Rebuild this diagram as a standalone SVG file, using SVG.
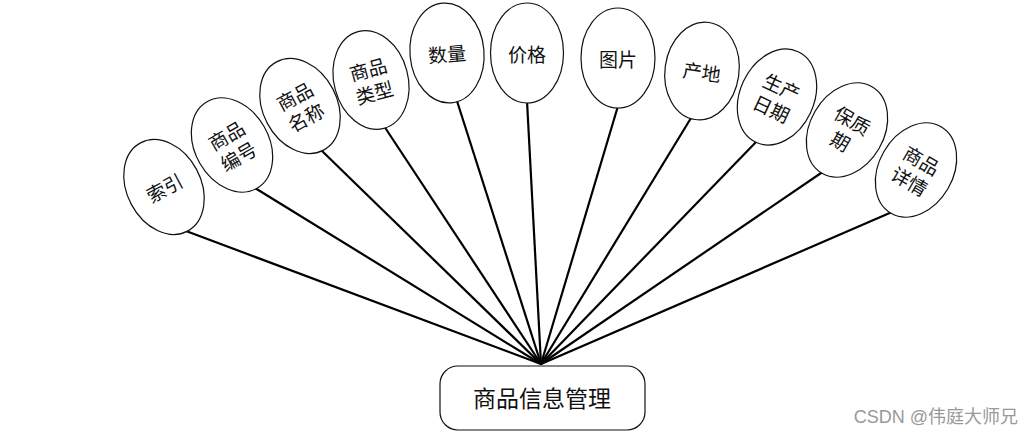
<svg xmlns="http://www.w3.org/2000/svg" width="1033" height="437" viewBox="0 0 1033 437">
<style>
.e{fill:#fff;stroke:#111;stroke-width:1.2}
.t{font-family:"Noto Sans CJK SC",sans-serif;font-size:19px;fill:#111;text-anchor:middle;dominant-baseline:central}
.c line{stroke:#000;stroke-width:2.2}
</style>
<rect width="1033" height="437" fill="#fff"/>
<g id="connectors" class="c">
<line x1="186" y1="231" x2="541" y2="364"/>
<line x1="255" y1="188" x2="541" y2="364"/>
<line x1="321" y1="150" x2="541" y2="364"/>
<line x1="384" y1="126" x2="541" y2="364"/>
<line x1="457" y1="101" x2="541" y2="364"/>
<line x1="527" y1="101" x2="541" y2="364"/>
<line x1="618" y1="106" x2="541" y2="364"/>
<line x1="691" y1="118" x2="541" y2="364"/>
<line x1="757" y1="141" x2="541" y2="364"/>
<line x1="824" y1="171" x2="541" y2="364"/>
<line x1="892" y1="212" x2="541" y2="364"/>
</g>
<g id="n1" transform="translate(164,187) rotate(-28)"><ellipse class="e" rx="37" ry="50"/><text class="t" x="0" y="0">索引</text></g>
<g id="n2" transform="translate(232,145) rotate(-30)"><ellipse class="e" rx="37" ry="50"/><text class="t" x="0" y="-12">商品</text><text class="t" x="0" y="12">编号</text></g>
<g id="n3" transform="translate(300,106) rotate(-28)"><ellipse class="e" rx="37" ry="50"/><text class="t" x="0" y="-12">商品</text><text class="t" x="0" y="12">名称</text></g>
<g id="n4" transform="translate(371,80) rotate(-15)"><ellipse class="e" rx="37" ry="50"/><text class="t" x="0" y="-12">商品</text><text class="t" x="0" y="12">类型</text></g>
<g id="n5" transform="translate(447,53) rotate(-5)"><ellipse class="e" rx="37" ry="50"/><text class="t" x="0" y="0">数量</text></g>
<g id="n6" transform="translate(527,53)"><ellipse class="e" rx="36.5" ry="50"/><text class="t" x="0" y="0">价格</text></g>
<g id="n7" transform="translate(618,58)"><ellipse class="e" rx="37" ry="50"/><text class="t" x="0" y="0">图片</text></g>
<g id="n8" transform="translate(702,71) rotate(8)"><ellipse class="e" rx="37" ry="49"/><text class="t" x="0" y="0">产地</text></g>
<g id="n9" transform="translate(777,97) rotate(25)"><ellipse class="e" rx="37" ry="50"/><text class="t" x="0" y="-12">生产</text><text class="t" x="0" y="12">日期</text></g>
<g id="n10" transform="translate(847,130) rotate(30)"><ellipse class="e" rx="37" ry="50"/><text class="t" x="0" y="-12">保质</text><text class="t" x="0" y="12">期</text></g>
<g id="n11" transform="translate(916,170) rotate(30)"><ellipse class="e" rx="37" ry="50"/><text class="t" x="0" y="-12">商品</text><text class="t" x="0" y="12">详情</text></g>
<g id="main"><rect x="440" y="366" width="205" height="64" rx="18" fill="#fff" stroke="#111" stroke-width="1.2"/><text class="t" x="542" y="397" style="font-size:23px">商品信息管理</text></g>
<text x="1018" y="423" style="font-family:'Liberation Sans','Noto Sans CJK SC',sans-serif;font-size:18px;fill:#999;text-anchor:end">CSDN @伟庭大师兄</text>
</svg>
